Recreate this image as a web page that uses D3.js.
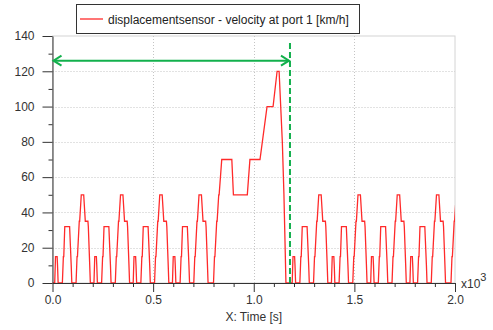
<!DOCTYPE html>
<html>
<head>
<meta charset="utf-8">
<script src="https://cdn.jsdelivr.net/npm/d3@7"></script>
<style>
  body { margin: 0; background: #fff; }
  text { font-family: "Liberation Sans", Arial, sans-serif; }
</style>
</head>
<body>
<div id="chart"></div>
<script>
// one urban cycle (ECE-15): breakpoints, seconds / km/h
let eceTime  = [0, 11, 15, 23, 25, 28, 49, 54, 56, 61, 85, 93, 96, 117, 122, 124, 133, 135, 143, 155, 163, 176, 178, 185, 188, 195]
let eceSpeed = [0, 0, 15, 15, 10, 0, 0, 15, 15, 32, 32, 10, 0, 0, 15, 15, 35, 35, 50, 50, 35, 35, 32, 10, 0, 0]

// extra urban part (EUDC)
let eudcTime  = [0, 20, 25, 27, 36, 38, 46, 48, 61, 111, 119, 188, 201, 251, 286, 316, 336, 346, 362, 370, 380, 400]
let eudcSpeed = [0, 0, 15, 15, 35, 35, 50, 50, 70, 70, 50, 50, 70, 70, 100, 100, 120, 120, 80, 50, 0, 0]

let cycleOrder = ['ECE', 'ECE', 'ECE', 'ECE', 'EUDC', 'ECE', 'ECE', 'ECE', 'ECE', 'EUDC']

let xTicks = [0, 500, 1000, 1500, 2000]
let yTicks = [0, 20, 40, 60, 80, 100, 120, 140]
let markerTime = 1180   // end of first cycle
let arrowLevel = 126

let legendLabel = 'displacementsensor - velocity at port 1 [km/h]'
let xLabel = 'X: Time [s]'

let width = 493, height = 330
let plotLeft = 52.5, plotRight = 455, plotTop = 36, plotBottom = 283

let svg = d3.select('#chart').append('svg')
  .attr('width', width).attr('height', height)

let x = d3.scaleLinear().domain([0, 2000]).range([plotLeft, plotRight])
let y = d3.scaleLinear().domain([0, 140]).range([plotBottom, plotTop])

// build the time series from the cycle pieces
let points = []
let offset = 0
cycleOrder.forEach(name => {
  let ts = name === 'ECE' ? eceTime : eudcTime
  let vs = name === 'ECE' ? eceSpeed : eudcSpeed
  ts.forEach((t, i) => points.push({ t: t + offset, v: vs[i] }))
  offset += ts[ts.length - 1]
})

// plot frame
svg.append('rect')
  .attr('x', plotLeft).attr('y', plotTop)
  .attr('width', plotRight - plotLeft).attr('height', plotBottom - plotTop)
  .attr('fill', 'none').attr('stroke', '#d4d4d4')

// grid
let gridColor = '#c4c4c4'
svg.append('g').selectAll('line')
  .data(yTicks.filter(d => d > 0 && d < 140))
  .enter().append('line')
    .attr('x1', plotLeft).attr('x2', plotRight)
    .attr('y1', d => Math.round(y(d)) + 0.5).attr('y2', d => Math.round(y(d)) + 0.5)
    .attr('stroke', gridColor).attr('stroke-dasharray', '1,2')
svg.append('g').selectAll('line')
  .data(xTicks.filter(d => d > 0 && d < 2000))
  .enter().append('line')
    .attr('x1', d => Math.round(x(d)) + 0.5).attr('x2', d => Math.round(x(d)) + 0.5)
    .attr('y1', plotTop).attr('y2', plotBottom)
    .attr('stroke', gridColor).attr('stroke-dasharray', '1,2')

// clip
svg.append('clipPath').attr('id', 'plotClip')
  .append('rect').attr('x', plotLeft).attr('y', plotTop - 2)
  .attr('width', plotRight - plotLeft).attr('height', plotBottom - plotTop + 4)

let line = d3.line().x(d => x(d.t)).y(d => y(d.v))

svg.append('path')
  .datum(points)
  .attr('clip-path', 'url(#plotClip)')
  .attr('d', line)
  .attr('fill', 'none')
  .attr('stroke', '#ff2a2a')
  .attr('stroke-width', 1.3)
  .attr('stroke-linejoin', 'miter')

// y axis
let yAxis = d3.axisLeft(y)
  .tickValues(d3.range(0, 141, 10))
  .tickSize(0)
  .tickFormat(d => d % 20 === 0 ? d : '')
let yG = svg.append('g').attr('transform', `translate(${plotLeft},0)`).call(yAxis)
yG.select('.domain').attr('stroke', '#333')
yG.selectAll('.tick line')
  .attr('x2', d => d % 20 === 0 ? -10 : -4)
  .attr('stroke', '#333')
yG.selectAll('.tick text')
  .attr('x', -18)
  .attr('font-size', 12)
  .attr('fill', '#333')
  .attr('font-family', '"Liberation Sans", Arial, sans-serif')

// x axis
let xAxis = d3.axisBottom(x)
  .tickValues(d3.range(0, 2001, 100))
  .tickSize(0)
  .tickFormat(d => d % 500 === 0 ? (d / 1000).toFixed(1) : '')
let xG = svg.append('g').attr('transform', `translate(0,${plotBottom})`).call(xAxis)
xG.select('.domain').attr('stroke', '#333')
xG.selectAll('.tick line')
  .attr('y2', d => d % 500 === 0 ? 9 : 4)
  .attr('stroke', '#333')
xG.selectAll('.tick text')
  .attr('y', 12)
  .attr('font-size', 12)
  .attr('fill', '#333')
  .attr('font-family', '"Liberation Sans", Arial, sans-serif')

// x10^3 multiplier
let mult = svg.append('text')
  .attr('x', plotRight + 6).attr('y', plotBottom + 5)
  .attr('font-size', 12).attr('fill', '#333')
mult.append('tspan').text('x10')
mult.append('tspan').attr('dy', -7).attr('font-size', 11).text('3')

svg.append('text')
  .attr('x', (plotLeft + plotRight) / 2).attr('y', 321)
  .attr('text-anchor', 'middle')
  .attr('font-size', 12).attr('fill', '#333')
  .text(xLabel)

// annotation: end of cycle marker + arrow
let green = '#12b04c'
svg.append('line')
  .attr('x1', x(markerTime)).attr('x2', x(markerTime))
  .attr('y1', 43).attr('y2', plotBottom)
  .attr('stroke', green).attr('stroke-width', 2)
  .attr('stroke-dasharray', '6,3')

let ay = y(arrowLevel)
let ax0 = x(0) + 1, ax1 = x(markerTime) - 1
svg.append('line')
  .attr('x1', ax0).attr('x2', ax1)
  .attr('y1', ay).attr('y2', ay)
  .attr('stroke', green).attr('stroke-width', 2)
svg.append('path')
  .attr('d', `M${ax0 + 8},${ay - 5}L${ax0},${ay}L${ax0 + 8},${ay + 5}`)
  .attr('fill', 'none').attr('stroke', green).attr('stroke-width', 2)
svg.append('path')
  .attr('d', `M${ax1 - 8},${ay - 5}L${ax1},${ay}L${ax1 - 8},${ay + 5}`)
  .attr('fill', 'none').attr('stroke', green).attr('stroke-width', 2)

// legend
let lg = svg.append('g')
lg.append('rect')
  .attr('x', 76.5).attr('y', 4.5)
  .attr('width', 283).attr('height', 29)
  .attr('fill', '#fff').attr('stroke', '#333')
lg.append('line')
  .attr('x1', 80).attr('x2', 103)
  .attr('y1', 19).attr('y2', 19)
  .attr('stroke', '#ff2a2a').attr('stroke-width', 1.3)
lg.append('text')
  .attr('x', 108).attr('y', 23.5)
  .attr('font-size', 12).attr('fill', '#222')
  .text(legendLabel)
</script>
</body>
</html>
